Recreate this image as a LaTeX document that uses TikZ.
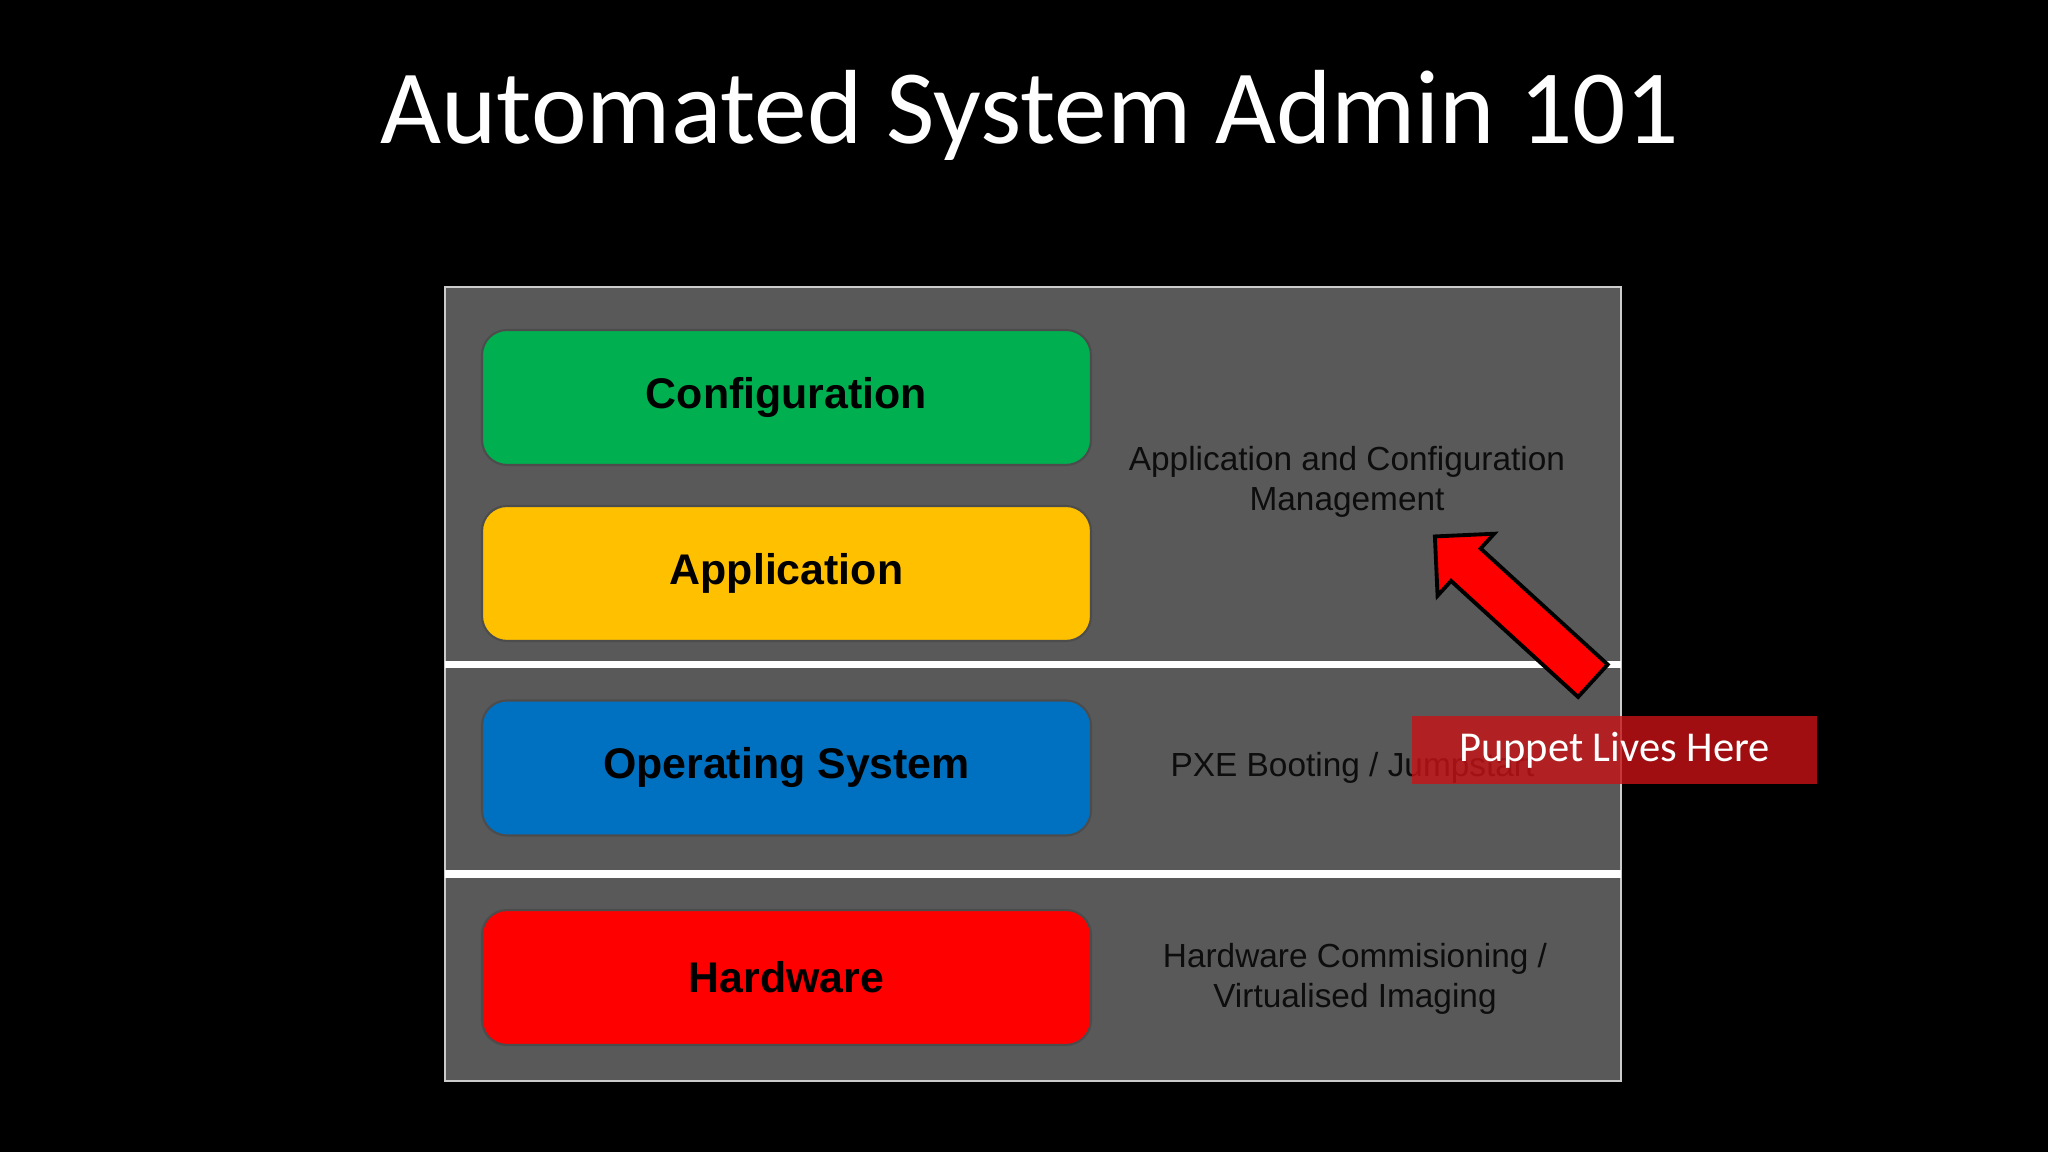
\documentclass[tikz,border=0pt]{standalone}
\usepackage{fontspec}
\setmainfont{Carlito}
\newfontfamily\arialfont{Liberation Sans}
\usetikzlibrary{positioning,shapes.arrows}
\definecolor{panelgray}{RGB}{89,89,89}
\definecolor{confgreen}{RGB}{0,176,80}
\definecolor{appyellow}{RGB}{255,192,0}
\definecolor{osblue}{RGB}{0,112,192}
\definecolor{hwred}{RGB}{255,0,0}
\definecolor{puppetred}{RGB}{200,18,22}

\begin{document}
\begin{tikzpicture}
    [node distance=1cm,
     layer/.style={rectangle, rounded corners=0.25cm, draw=black!70, line width=0.6pt,
       minimum width=6.09cm, minimum height=1.35cm,
       font=\arialfont\bfseries\fontsize{12.2}{14}\selectfont},
     note/.style={align=center, text=black!95, font=\arialfont\fontsize{9.5}{11.4}\selectfont},
     divider/.style={white, line width=2pt}]
  % background and title
  \fill[black] (0,0) rectangle (20.48,11.52);
  \useasboundingbox (0,0) rectangle (20.48,11.52);
  \node[anchor=base, text=white, font=\fontsize{30}{36}\selectfont] (title) at (10.30,10.08) {Automated System Admin 101};

  % gray panel with its two dividers
  \filldraw[fill=panelgray, draw=gray!40, line width=0.8pt] (4.45,0.71) rectangle (16.21,8.65);
  \draw[divider] (4.45,4.87) -- (16.21,4.87);
  \draw[divider] (4.45,2.78) -- (16.21,2.78);

  % the layers
  \node[layer, fill=confgreen] (conf) at (7.865,7.545) {Configuration};
  \node[layer, fill=appyellow] (app) at (7.865,5.785) {Application};
  \node[layer, fill=osblue] (os) at (7.865,3.84) {Operating System};
  \node[layer, fill=hwred] (hw) at (7.865,1.745) {Hardware};

  \node[note] (appnote) at (13.47,6.70) {Application and Configuration\\Management};
  \node[note, right of=os, node distance=5.66cm] (osnote) {PXE Booting / Jumpstart};
  \node[note] (hwnote) at (13.55,1.73) {Hardware Commisioning /\\Virtualised Imaging};

  % callout
  \node[single arrow, draw=black, line width=1.1pt, fill=red, minimum height=2.14cm,
    inner xsep=0pt, inner ysep=0.2cm, single arrow head extend=0.2cm,
    rotate=137.6] (puparrow) at (15.22,5.36) {};
  \node[fill=puppetred, fill opacity=0.8, text opacity=1, text=white,
    minimum width=4.05cm, minimum height=0.68cm,
    font=\fontsize{12.1}{14}\selectfont] (puppet) at (16.145,4.02) {Puppet Lives Here};
\end{tikzpicture}
\end{document}
